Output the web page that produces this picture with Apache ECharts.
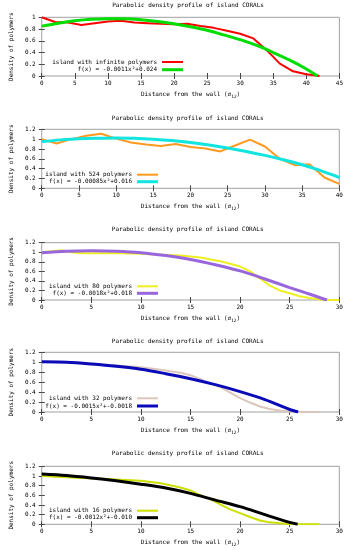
<!DOCTYPE html>
<html><head><meta charset="utf-8">
<script src="https://cdn.jsdelivr.net/npm/echarts@6/dist/echarts.min.js"></script>
<style>html,body{margin:0;padding:0;background:#fff}#c{width:346px;height:550px}</style>
</head><body><div id="c"></div>
<script>
// ---- data ----
const titleText = 'Parabolic density profile of island CORALs';
const seriesNames = [
  ['island with infinite polymers', 'f(x) = -0.0011x\u00b2+0.024'],
  ['island with 524 polymers', 'f(x) = -0.00085x\u00b2+0.016'],
  ['island with 80 polymers', 'f(x) = -0.0018x\u00b2+0.018'],
  ['island with 32 polymers', 'f(x) = -0.0015x\u00b2+-0.0018'],
  ['island with 16 polymers', 'f(x) = -0.0012x\u00b2+-0.010']
];
const xMaxes = [45, 40, 30, 30, 30];
const yMaxes = [1, 1.2, 1.2, 1.2, 1.2];

const islandInf = [[0,1.0],[2,0.92],[4,0.91],[6,0.87],[8,0.9],[10,0.93],[12,0.94],[14,0.91],[16,0.9],[18,0.89],[20,0.88],[22,0.89],[24,0.85],[26,0.82],[28,0.77],[30,0.72],[32,0.64],[34,0.44],[36,0.21],[38,0.08],[40,0.03],[42,0.0]];
const fitInf = [[0,0.85],[2.5,0.9],[5,0.94],[7.5,0.965],[10,0.975],[12.5,0.975],[15,0.96],[17.5,0.93],[20,0.89],[22.5,0.84],[25,0.78],[27.5,0.7],[30,0.62],[32.5,0.52],[35,0.4],[37.5,0.27],[40,0.12],[41.7,0.0]];

const island524 = [[0,1.0],[2,0.91],[4,1.0],[6,1.07],[8,1.11],[10,1.01],[12,0.93],[14,0.89],[16,0.86],[18,0.9],[20,0.84],[22,0.81],[24,0.75],[26,0.87],[28,0.99],[30,0.85],[32,0.6],[34,0.47],[36,0.49],[38,0.22],[40,0.09]];
const fit524 = [[0,0.95],[2.5,0.985],[5,1.01],[7.5,1.02],[10,1.025],[12.5,1.02],[15,1.0],[17.5,0.97],[20,0.93],[22.5,0.88],[25,0.82],[27.5,0.75],[30,0.67],[32.5,0.58],[35,0.48],[37.5,0.36],[40,0.22]];

const island80 = [[0,1.0],[1,1.02],[2,1.04],[3,1.0],[4,0.98],[6,0.98],[8,0.98],[10,0.97],[12,0.95],[14,0.93],[15,0.91],[16,0.89],[17,0.85],[18,0.81],[19,0.76],[20,0.7],[21,0.6],[22,0.45],[23,0.3],[24,0.2],[25,0.14],[26,0.08],[27,0.04],[28,0.01],[29,0.0],[30,0.0]];
const fit80 = [[0,0.99],[2.5,1.02],[5,1.03],[7.5,1.02],[10,0.99],[12.5,0.93],[15,0.85],[17.5,0.74],[20,0.61],[22.5,0.44],[25,0.26],[27.5,0.09],[28.75,0.0]];

const island32 = [[0,1.01],[2,1.01],[4,0.99],[6,0.96],[8,0.93],[10,0.9],[12,0.85],[14,0.79],[15,0.74],[16,0.66],[17,0.57],[18,0.5],[19,0.39],[20,0.28],[21,0.19],[22,0.11],[23,0.06],[24,0.03],[25,0.01],[26,0.0],[28,0.0]];
const fit32 = [[0,1.01],[2.5,1.0],[5,0.965],[7.5,0.92],[10,0.86],[12.5,0.77],[15,0.67],[17.5,0.55],[20,0.41],[22.5,0.25],[25,0.05],[25.85,0.0]];

const island16 = [[0,1.0],[2,0.98],[4,0.96],[6,0.94],[8,0.92],[10,0.9],[12,0.85],[14,0.76],[15,0.7],[16,0.6],[17,0.52],[18,0.41],[19,0.31],[20,0.23],[21,0.15],[22,0.08],[23,0.04],[24,0.02],[25,0.0],[26,0.0],[28,0.0]];
const fit16 = [[0,1.04],[2.5,1.01],[5,0.96],[7.5,0.9],[10,0.83],[12.5,0.75],[15,0.64],[17.5,0.5],[20,0.365],[22.5,0.2],[25,0.04],[25.8,0.0]];

const dataSets = [islandInf, island524, island80, island32, island16];
const fitSets = [fitInf, fit524, fit80, fit32, fit16];

// ---- styles / layout ----
const FONT = 'DejaVu Sans Mono';
const FS = 6;
const dataColors = ['#ff0000', '#ff9a20', '#eeee22', '#dcc6bc', '#cce000'];
const fitColors = ['#00dd00', '#12e4e0', '#9966dd', '#0a0ab8', '#000000'];
const layouts = [
  {top: 17.3, bottom: 76, right: 6, titleY: 6, leg: [62, 69.7], legRight: 163},
  {top: 129.3, bottom: 188.3, right: 6.7, titleY: 119, leg: [174.7, 181.7], legRight: 188},
  {top: 242.7, bottom: 300, right: 6.7, titleY: 230, leg: [286.3, 293.3], legRight: 188},
  {top: 352.3, bottom: 412, right: 6.7, titleY: 342, leg: [398.3, 406], legRight: 188},
  {top: 466.3, bottom: 524.3, right: 6.7, titleY: 454, leg: [510.7, 517.7], legRight: 188}
];
const LEFT = 36;

const grid = [], xAxis = [], yAxis = [], series = [], title = [], legend = [];
const txt = {fontFamily: FONT, fontSize: FS, color: '#000'};

layouts.forEach((L, i) => {
  grid.push({left: LEFT, right: L.right, top: L.top, height: L.bottom - L.top,
    show: true, borderColor: '#a0a0a0', borderWidth: 1, backgroundColor: 'transparent'});
  const cx = (LEFT + (346 - L.right)) / 2;
  title.push({text: titleText, left: cx, top: L.titleY - 4, textAlign: 'center', padding: 0,
    textStyle: Object.assign({fontWeight: 'normal'}, txt)});
  const tick = {show: true, inside: true, length: 3, lineStyle: {color: '#444', width: 1}};
  xAxis.push({type: 'value', gridIndex: i, min: 0, max: xMaxes[i], interval: 5, position: 'bottom',
    axisLine: {show: false}, axisTick: tick, splitLine: {show: false},
    axisLabel: Object.assign({margin: 4}, txt),
    name: '{a|Distance from the wall (\u03c3}{s|12}{a|)}', nameLocation: 'middle', nameGap: 15,
    nameTextStyle: {rich: {
      a: Object.assign({verticalAlign: 'top', lineHeight: 7}, txt),
      s: {fontFamily: FONT, fontSize: 4.5, color: '#000', verticalAlign: 'top', lineHeight: 5, padding: [3, 0, 0, 0]}
    }}});
  xAxis.push({type: 'value', gridIndex: i, min: 0, max: xMaxes[i], interval: 5, position: 'top',
    axisLine: {show: false}, axisTick: tick, splitLine: {show: false}, axisLabel: {show: false}});
  yAxis.push({type: 'value', gridIndex: i, min: 0, max: yMaxes[i], interval: 0.2, position: 'left',
    axisLine: {show: false}, axisTick: tick, splitLine: {show: false},
    axisLabel: Object.assign({margin: 6}, txt),
    name: 'Density of polymers', nameLocation: 'middle', nameGap: 25, nameTextStyle: txt});
  yAxis.push({type: 'value', gridIndex: i, min: 0, max: yMaxes[i], interval: 0.2, position: 'right',
    axisLine: {show: false}, axisTick: tick, splitLine: {show: false}, axisLabel: {show: false}});
  const names = seriesNames[i];
  series.push({type: 'line', name: names[0], xAxisIndex: 2 * i, yAxisIndex: 2 * i, data: dataSets[i],
    symbol: 'none', smooth: false, lineStyle: {color: dataColors[i], width: 2}, itemStyle: {color: dataColors[i]},
    animation: false, z: 2});
  series.push({type: 'line', name: names[1], xAxisIndex: 2 * i, yAxisIndex: 2 * i, data: fitSets[i],
    symbol: 'none', smooth: 0.3, lineStyle: {color: fitColors[i], width: 3}, itemStyle: {color: fitColors[i]},
    animation: false, z: 3});
  names.forEach((n, k) => {
    const h = k === 0 ? 2 : 3;
    legend.push({data: [{name: n, icon: 'rect'}], right: L.legRight, top: L.leg[k] - 3.5, padding: 0, align: 'right',
      itemWidth: 21, itemHeight: h, selectedMode: false, textStyle: Object.assign({lineHeight: 7}, txt)});
  });
});

const chart = echarts.init(document.getElementById('c'), null, {renderer: 'canvas'});
chart.setOption({animation: false, backgroundColor: '#fff', title, legend, grid, xAxis, yAxis, series});
</script></body></html>
